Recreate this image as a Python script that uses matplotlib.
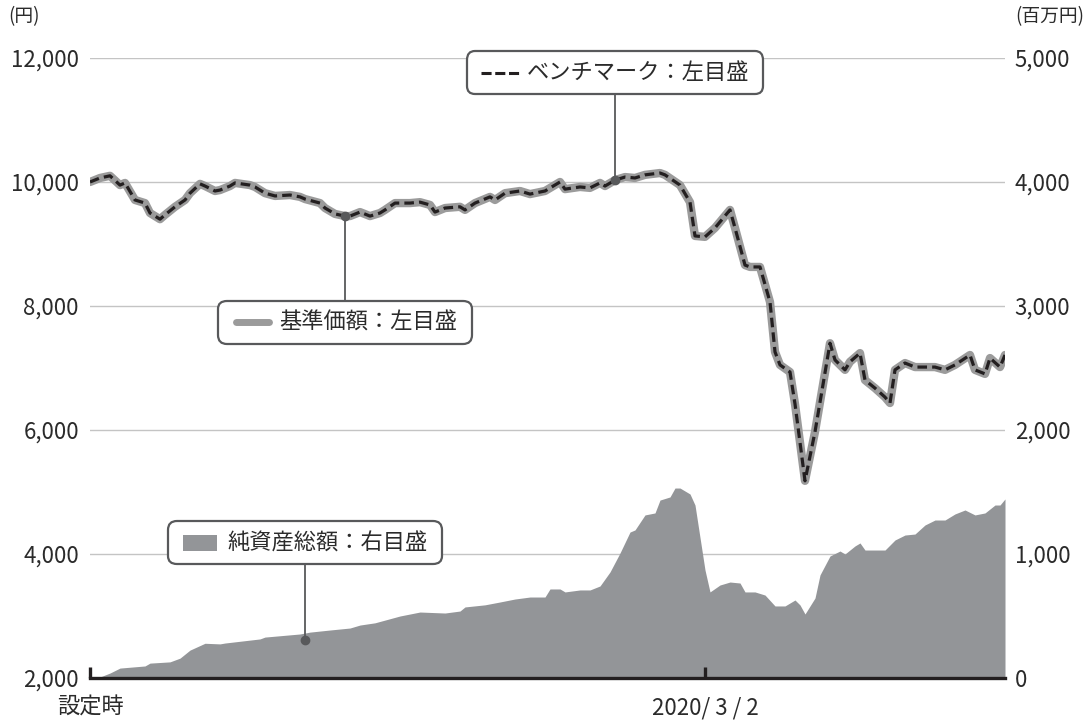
import numpy as np
import pandas as pd
import matplotlib
matplotlib.use("Agg")
import matplotlib.pyplot as plt
import matplotlib.dates as mdates
from matplotlib.lines import Line2D
from matplotlib.patches import Rectangle
from matplotlib.offsetbox import AnnotationBbox, DrawingArea, HPacker, TextArea

plt.rcParams["font.family"] = ["Noto Sans CJK JP", "DejaVu Sans"]

# 設定日と経過日数
START = "2019-10-31"

# 基準価額 / ベンチマーク (円, 左目盛)
nav_days = [0, 2, 4, 6, 7, 9, 11, 12, 14, 15,
            17, 19, 20, 22, 23, 25, 26, 28, 29, 32,
            33, 35, 37, 40, 42, 43, 46, 47, 49, 51,
            52, 54, 56, 58, 59, 61, 64, 66, 68, 69,
            71, 74, 75, 77, 80, 81, 83, 86, 88, 91,
            94, 95, 98, 100, 102, 103, 105, 107, 109, 111,
            114, 115, 118, 120, 121, 123, 125, 128, 129, 131,
            132, 134, 136, 137, 138, 140, 141, 143, 145, 148,
            149, 151, 152, 154, 155, 157, 159, 160, 161, 163,
            165, 169, 171, 173, 176, 177, 179, 180, 182, 183]
nav_values = [10000, 10065, 10100, 9950, 9985, 9710, 9660, 9500, 9400, 9470,
              9600, 9710, 9820, 9970, 9935, 9855, 9870, 9935, 9985, 9950,
              9920, 9820, 9775, 9790, 9760, 9725, 9660, 9580, 9485, 9450,
              9450, 9515, 9450, 9500, 9550, 9660, 9660, 9675, 9630, 9515,
              9580, 9600, 9550, 9660, 9760, 9710, 9820, 9855, 9805, 9855,
              10000, 9885, 9920, 9905, 9985, 9935, 10030, 10080, 10065, 10115,
              10145, 10115, 9950, 9675, 9130, 9115, 9260, 9550, 9260, 8660,
              8630, 8630, 8065, 7260, 7050, 6935, 6420, 5180, 5970, 7400,
              7130, 6970, 7100, 7240, 6805, 6675, 6530, 6435, 6970, 7080,
              7015, 7015, 6970, 7050, 7210, 6970, 6905, 7160, 7015, 7210]
bench_values = list(nav_values)  # ほぼ重なっている

# 純資産総額 (百万円, 右目盛)
aum_days = [0, 2, 4, 6, 11, 12, 16, 18, 20, 23,
            26, 27, 34, 35, 42, 44, 48, 52, 54, 57,
            62, 66, 71, 74, 75, 79, 82, 85, 88, 91,
            92, 94, 95, 98, 100, 102, 104, 106, 108, 109,
            111, 113, 114, 116, 117, 118, 120, 121, 123, 124,
            126, 128, 130, 131, 133, 135, 137, 139, 141, 142,
            143, 145, 146, 148, 150, 151, 153, 154, 155, 157,
            159, 161, 163, 165, 167, 169, 171, 173, 175, 177,
            179, 181, 182, 183]
aum_values = [0, 8, 40, 80, 97, 120, 130, 160, 225, 280,
              275, 282, 315, 330, 355, 370, 387, 403, 427, 445,
              500, 532, 524, 540, 573, 590, 613, 637, 653, 653,
              718, 718, 694, 710, 710, 742, 855, 1008, 1177, 1194,
              1315, 1331, 1435, 1460, 1532, 1532, 1484, 1395, 871, 694,
              750, 774, 766, 694, 694, 669, 581, 581, 629, 589,
              516, 645, 831, 984, 1024, 1000, 1065, 1089, 1032, 1032,
              1032, 1113, 1153, 1161, 1234, 1274, 1274, 1323, 1355, 1315,
              1331, 1395, 1395, 1444]

left_ticks = [2000, 4000, 6000, 8000, 10000, 12000]
right_ticks = [0, 1000, 2000, 3000, 4000, 5000]
x_tick_dates = ["2019-10-31", "2020-03-02"]
x_tick_labels = ["設定時", "2020/ 3 / 2"]

TEXT = "#2b2b2b"
LINE_GRAY = "#9b9b9b"
AREA_GRAY = "#939598"
DARK = "#231f20"
FRAME = "#58595b"


def to_num(days):
    base = pd.Timestamp(START)
    return mdates.date2num((base + pd.to_timedelta(days, unit="D")).to_numpy())


nav_x = to_num(nav_days)
aum_x = to_num(aum_days)

fig = plt.figure(figsize=(10.92, 7.2), dpi=100)
ax = fig.add_axes([90 / 1092, 42 / 720, 915 / 1092, 620 / 720])
ax2 = ax.twinx()
ax.set_zorder(2)
ax2.set_zorder(1)
ax.patch.set_visible(False)

# 純資産総額 (右)
ax2.fill_between(aum_x, aum_values, color=AREA_GRAY, lw=0, zorder=2)
ax2.set_ylim(0, 5000)
ax2.set_yticks(right_ticks, labels=[f"{v:,}" for v in right_ticks])
ax2.grid(axis="y", color="#c4c4c4", lw=1)
ax2.set_axisbelow(True)
ax2.tick_params(axis="y", length=0, pad=7, labelsize=16, labelcolor=TEXT)

# 基準価額 + ベンチマーク (左)
ax.plot(nav_x, nav_values, color=LINE_GRAY, lw=6, solid_joinstyle="round",
        solid_capstyle="round", zorder=3)
ax.plot(nav_x, bench_values, color=DARK, lw=2.3, dashes=(3, 1.6), zorder=4)
ax.set_ylim(2000, 12000)
ax.set_yticks(left_ticks, labels=[f"{v:,}" for v in left_ticks])
ax.tick_params(axis="y", length=0, pad=8, labelsize=16, labelcolor=TEXT)

ax.set_xlim(nav_x[0], nav_x[-1])
ax.set_xticks(to_num([(pd.Timestamp(d) - pd.Timestamp(START)).days for d in x_tick_dates]),
              labels=x_tick_labels)
ax.tick_params(axis="x", direction="in", length=8, width=2.4, color=DARK,
               pad=13, labelsize=16, labelcolor=TEXT)

for a in (ax, ax2):
    for side in ("top", "left", "right", "bottom"):
        a.spines[side].set_visible(False)
ax.spines["bottom"].set_visible(True)
ax.spines["bottom"].set_color(DARK)
ax.spines["bottom"].set_linewidth(2.4)

# 凡例ボックス
def sample_dash():
    da = DrawingArea(28, 10, 0, 0)
    da.add_artist(Line2D([0, 28], [5, 5], color=DARK, lw=2.2, dashes=(3.3, 1.2),
                         solid_capstyle="butt"))
    return da


def sample_line():
    da = DrawingArea(29, 10, 0, 0)
    da.add_artist(Line2D([2.6, 26.4], [5, 5], color=LINE_GRAY, lw=5,
                         solid_capstyle="round"))
    return da


def sample_rect():
    da = DrawingArea(25, 12, 0, 0)
    da.add_artist(Rectangle((0, 0), 25, 12, color=AREA_GRAY, lw=0))
    return da


def label_box(sample, text, day, value, box_y, sep):
    xx = to_num([day])[0]
    ta = TextArea(text, textprops=dict(size=16, color=TEXT))
    inner = HPacker(children=[sample, ta], align="center", pad=0, sep=sep)
    pack = HPacker(children=[DrawingArea(3, 1), inner, DrawingArea(3, 1)],
                   align="center", pad=0, sep=0)
    ab = AnnotationBbox(pack, (xx, value), xybox=(xx, box_y),
                        xycoords="data", boxcoords=("data", "axes fraction"),
                        box_alignment=(0.5, 0.5), frameon=True,
                        bboxprops=dict(boxstyle="round,pad=0.72,rounding_size=0.6",
                                       fc="white", ec=FRAME, lw=1.6),
                        arrowprops=dict(arrowstyle="-", color=FRAME, lw=1.3,
                                        shrinkA=0, shrinkB=0),
                        zorder=6)
    ax.add_artist(ab)
    ax.plot([xx], [value], "o", ms=6, color=FRAME, zorder=7)


label_box(sample_dash(), "ベンチマーク：左目盛", 105, 10030, 0.976, 5)
label_box(sample_line(), "基準価額：左目盛", 51, 9450, 0.574, 5)
# 純資産総額は右目盛 -> 左目盛の値に換算して点を置く
aum_anchor = 306
label_box(sample_rect(), "純資産総額：右目盛", 43, 2000 + aum_anchor * 2, 0.218, 7)

fig.text(8 / 1092, 1 - 17 / 720, "(円)", ha="left", va="center", size=13.5, color=TEXT)
fig.text(1084 / 1092, 1 - 17 / 720, "(百万円)", ha="right", va="center", size=13.5, color=TEXT)

fig.savefig("out.png", dpi=100, facecolor="white")
